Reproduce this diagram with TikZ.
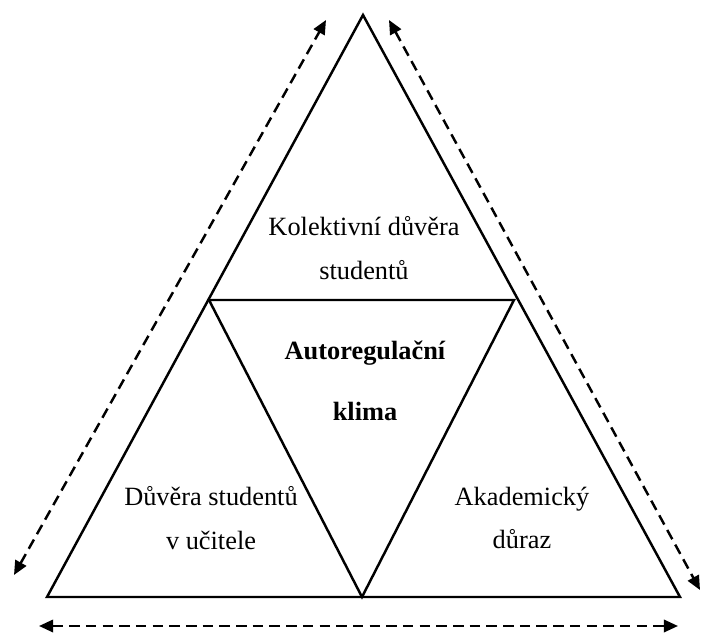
\documentclass[tikz,border=0pt]{standalone}
\usepackage{fontspec}
\setmainfont{Liberation Serif}
\usepackage{tikz}
\usetikzlibrary{arrows.meta, positioning, calc}
\usepackage{xcolor}
\definecolor{ink}{HTML}{000000}
\tikzset{
  side/.style  = {draw=ink, line width=1.4pt, line join=miter},
  darr/.style  = {{Triangle[length=8pt, width=7pt]}-{Triangle[length=8pt, width=7pt]},
                  draw=ink, line width=1.4pt, dash pattern=on 6pt off 3.5pt},
  labl/.style  = {align=center, inner sep=0pt, text=ink,
                  font=\fontsize{15}{25}\selectfont},
  blabl/.style = {labl, font=\fontsize{15}{35}\selectfont\bfseries},
}

\begin{document}
\begin{tikzpicture}[x=0.02cm, y=-0.02cm]
  \useasboundingbox (0,0) rectangle (703,634);

  \coordinate (apex)  at (363,15);
  \coordinate (bl)    at (47,597);
  \coordinate (br)    at (680,597);
  \coordinate (ml)    at (209,300);
  \coordinate (mr)    at (514,300);
  \coordinate (bm)    at (362,597);

  \draw[side] (apex) -- (bl) -- (br) -- cycle;
  \draw[side] (ml) -- (mr) -- (bm) -- cycle;

  \coordinate (leftlo)  at (14,575);
  \coordinate (lefthi)  at (326,20);
  \coordinate (righthi) at (389,20);
  \coordinate (rightlo) at (700,590);
  \coordinate (botl)    at (39,626);
  \coordinate (botr)    at (678,626);

  \draw[darr] (leftlo) -- (lefthi);
  \draw[darr] (righthi) -- (rightlo);
  \draw[darr] (botl) -- (botr);

  \node[labl]  (kolektiv) at (364,248) {Kolektivní důvěra\\studentů};
  \node[blabl] (klima)    at (365,381) {Autoregulační\\klima};
  \node[labl]  (ucitel)   at (211,518) {Důvěra studentů\\v učitele};
  \node[labl]  (duraz)    at (522,518) {Akademický\\důraz};
\end{tikzpicture}
\end{document}
